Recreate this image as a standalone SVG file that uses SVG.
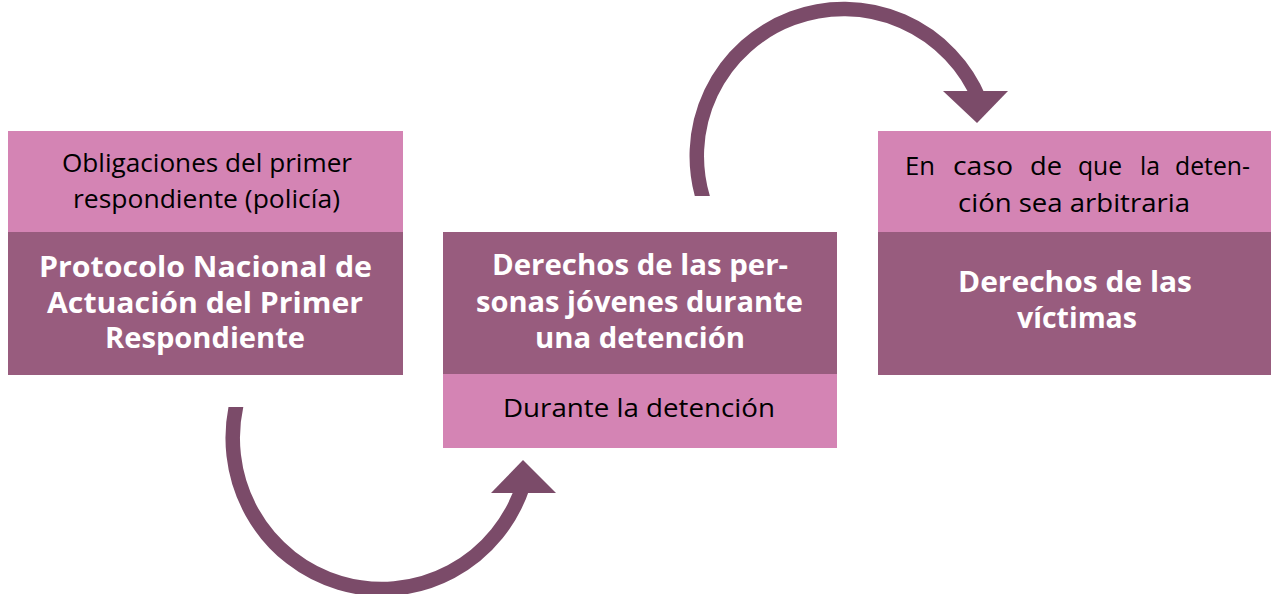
<svg xmlns="http://www.w3.org/2000/svg" width="1271" height="594" viewBox="0 0 1271 594">
<style>
.pink{fill:#D484B4}
.dark{fill:#985C7E}
.t{font-family:"Open Sans",Lato,"Liberation Sans",sans-serif;font-size:25px;fill:#000;text-anchor:middle}
.w{font-family:"Open Sans",Lato,"Liberation Sans",sans-serif;font-size:25px;fill:#000}
.b{font-family:"Open Sans",Lato,"Liberation Sans",sans-serif;font-size:28px;font-weight:bold;fill:#fff;text-anchor:middle}
.arc{fill:none;stroke:#7B4B69;stroke-width:14.5}
.head{fill:#7B4B69}
</style>
<defs>
<clipPath id="clipBottom"><rect x="0" y="407" width="1271" height="187"/></clipPath>
<clipPath id="clipTop"><rect x="0" y="0" width="1271" height="196"/></clipPath>
</defs>
<rect width="1271" height="594" fill="#fff"/>
<g id="node-left">
<rect class="pink" x="8" y="131" width="395" height="101"/>
<rect class="dark" x="8" y="232" width="395" height="143"/>
<text class="t" x="207" y="172" textLength="290" lengthAdjust="spacingAndGlyphs">Obligaciones del primer</text>
<text class="t" x="206.5" y="208" textLength="267" lengthAdjust="spacingAndGlyphs">respondiente (policía)</text>
<text class="b" x="205.5" y="277" textLength="333" lengthAdjust="spacingAndGlyphs">Protocolo Nacional de</text>
<text class="b" x="205" y="313" textLength="316" lengthAdjust="spacingAndGlyphs">Actuación del Primer</text>
<text class="b" x="205" y="348" textLength="200" lengthAdjust="spacingAndGlyphs">Respondiente</text>
</g>
<g id="node-middle">
<rect class="dark" x="443" y="232" width="394" height="142"/>
<rect class="pink" x="443" y="374" width="394" height="74"/>
<text class="b" x="640" y="275" textLength="296" lengthAdjust="spacingAndGlyphs">Derechos de las per-</text>
<text class="b" x="639.5" y="312" textLength="327" lengthAdjust="spacingAndGlyphs">sonas jóvenes durante</text>
<text class="b" x="640" y="348" textLength="210" lengthAdjust="spacingAndGlyphs">una detención</text>
<text class="t" x="639" y="417" textLength="272" lengthAdjust="spacingAndGlyphs">Durante la detención</text>
</g>
<g id="node-right">
<rect class="pink" x="878" y="131" width="393" height="101"/>
<rect class="dark" x="878" y="232" width="393" height="143"/>
<text class="w" x="905" y="175" textLength="30" lengthAdjust="spacingAndGlyphs">En</text>
<text class="w" x="953" y="175" textLength="60" lengthAdjust="spacingAndGlyphs">caso</text>
<text class="w" x="1030" y="175" textLength="32" lengthAdjust="spacingAndGlyphs">de</text>
<text class="w" x="1078" y="175" textLength="44" lengthAdjust="spacingAndGlyphs">que</text>
<text class="w" x="1140" y="175" textLength="20" lengthAdjust="spacingAndGlyphs">la</text>
<text class="w" x="1175" y="175" textLength="75" lengthAdjust="spacingAndGlyphs">deten-</text>
<text class="t" x="1074" y="212" textLength="232" lengthAdjust="spacingAndGlyphs">ción sea arbitraria</text>
<text class="b" x="1075" y="292" textLength="234" lengthAdjust="spacingAndGlyphs">Derechos de las</text>
<text class="b" x="1077" y="328" textLength="120" lengthAdjust="spacingAndGlyphs">víctimas</text>
</g>
<g id="connectors">
<path class="arc" clip-path="url(#clipBottom)" d="M 237.5 400 A 149 151 0 0 0 523.3 485"/>
<polygon class="head" points="491,493 556,493 523,460"/>
<path class="arc" clip-path="url(#clipTop)" d="M 704.5 203 A 147 147 0 0 1 979.7 100"/>
<polygon class="head" points="943,91 1008,91 977,123"/>
</g>
</svg>
